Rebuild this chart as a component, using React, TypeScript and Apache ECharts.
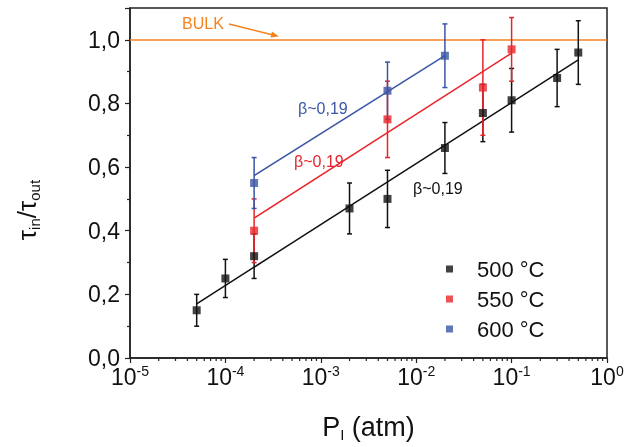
import React, { useEffect, useRef } from 'react';
import * as echarts from 'echarts';

// ---- data ----
const pressure500 = [5e-5, 1e-4, 2e-4, 2e-3, 5e-3, 2e-2, 5e-2, 1e-1, 3e-1, 5e-1];
const ratio500 = [0.15, 0.25, 0.32, 0.47, 0.50, 0.66, 0.77, 0.81, 0.88, 0.96];
const error500 = [0.05, 0.06, 0.07, 0.08, 0.09, 0.08, 0.09, 0.10, 0.09, 0.10];

const pressure550 = [2e-4, 5e-3, 5e-2, 1e-1];
const ratio550 = [0.40, 0.75, 0.85, 0.97];
const error550 = [0.10, 0.12, 0.15, 0.10];

const pressure600 = [2e-4, 5e-3, 2e-2];
const ratio600 = [0.55, 0.84, 0.95];
const error600 = [0.08, 0.09, 0.10];

const fit500X = [5e-5, 0.5];
const fit500Y = [0.17, 0.937];
const fit550X = [2e-4, 0.1];
const fit550Y = [0.44, 0.958];
const fit600X = [2e-4, 2e-2];
const fit600Y = [0.573, 0.95];

const bulkLevel = 1.0;
const seriesNames = ['500 °C', '550 °C', '600 °C'];
const betaLabel = 'β~0,19';
const decades = [-5, -4, -3, -2, -1];
const minorMultipliers = [2, 3, 4, 5, 6, 7, 8, 9];

const COLORS = ['#111111', '#e8242b', '#3a55a5'];
const ORANGE = '#f5821f';
const AXIS = '#222222';
const FONT = '"Liberation Sans", Arial, Helvetica, sans-serif';

const zip = (xs: number[], ys: number[]) => xs.map((x, i) => [x, ys[i]]);
const errData = (xs: number[], ys: number[], es: number[]) =>
  xs.map((x, i) => [x, ys[i] - es[i], ys[i] + es[i]]);

const errorBarRender = (color: string) => (params: any, api: any) => {
  const x = api.value(0);
  const lo = api.value(1);
  const hi = api.value(2);
  const pTop = api.coord([x, hi]);
  const pBot = api.coord([x, lo]);
  const w = 2.5;
  const style = { stroke: color, lineWidth: 1.5 };
  return {
    type: 'group',
    children: [
      { type: 'line', shape: { x1: pTop[0], y1: pTop[1], x2: pBot[0], y2: pBot[1] }, style },
      { type: 'line', shape: { x1: pTop[0] - w, y1: pTop[1], x2: pTop[0] + w, y2: pTop[1] }, style },
      { type: 'line', shape: { x1: pBot[0] - w, y1: pBot[1], x2: pBot[0] + w, y2: pBot[1] }, style },
    ],
  };
};

export default function App() {
  const ref = useRef<HTMLDivElement>(null);
  useEffect(() => {
    const chart = echarts.init(ref.current!, null, { renderer: 'svg' });

    const minorTicks: number[][] = [];
    decades.forEach((d) => minorMultipliers.forEach((m) => minorTicks.push([m * Math.pow(10, d), 0])));

    const pressures = [pressure500, pressure550, pressure600];
    const ratios = [ratio500, ratio550, ratio600];
    const errors = [error500, error550, error600];
    const fits = [
      [fit500X, fit500Y],
      [fit550X, fit550Y],
      [fit600X, fit600Y],
    ];

    const series: any[] = [];
    seriesNames.forEach((name, i) => {
      series.push({
        type: 'line',
        name: 'fit ' + name,
        data: zip(fits[i][0], fits[i][1]),
        showSymbol: false,
        symbol: 'none',
        lineStyle: { color: COLORS[i], width: 1.5 },
        z: 2 + i,
        silent: true,
        ...(i === 0
          ? {
              markLine: {
                silent: true,
                symbol: 'none',
                label: { show: false },
                lineStyle: { color: ORANGE, width: 1.5, type: 'solid' },
                data: [{ yAxis: bulkLevel }],
              },
            }
          : {}),
      });
    });
    seriesNames.forEach((name, i) => {
      series.push({
        type: 'custom',
        name: 'err ' + name,
        data: errData(pressures[i], ratios[i], errors[i]),
        encode: { x: 0, y: [1, 2] },
        renderItem: errorBarRender(COLORS[i]),
        z: 5 + i,
        silent: true,
      });
    });
    seriesNames.forEach((name, i) => {
      series.push({
        type: 'scatter',
        name,
        data: zip(pressures[i], ratios[i]),
        symbol: 'rect',
        symbolSize: 8,
        itemStyle: { color: COLORS[i] },
        z: 10 + i,
      });
    });
    series.push({
      type: 'custom',
      name: 'minor ticks',
      data: minorTicks,
      encode: { x: 0, y: 1 },
      silent: true,
      clip: false,
      renderItem: (params: any, api: any) => {
        const p = api.coord([api.value(0), api.value(1)]);
        return {
          type: 'line',
          shape: { x1: p[0], y1: p[1], x2: p[0], y2: p[1] + 3 },
          style: { stroke: AXIS, lineWidth: 1.2 },
        };
      },
      z: 1,
    });

    const option: any = {
      animation: false,
      textStyle: { fontFamily: FONT },
      grid: {
        left: 130,
        right: 22,
        top: 8,
        bottom: 84,
        show: true,
        borderColor: AXIS,
        borderWidth: 1.5,
        backgroundColor: 'transparent',
      },
      legend: {
        data: seriesNames,
        orient: 'vertical',
        left: 441,
        top: 253,
        itemWidth: 7,
        itemHeight: 7,
        itemGap: 8,
        icon: 'rect',
        textStyle: { fontSize: 22, color: '#111', fontFamily: FONT, padding: [0, 0, 0, 19] },
      },
      xAxis: {
        type: 'log',
        logBase: 10,
        min: 1e-5,
        max: 1,
        axisLine: { lineStyle: { color: AXIS, width: 1.5 } },
        axisTick: { show: true, length: 5, lineStyle: { color: AXIS, width: 1.2 } },
        splitLine: { show: false },
        axisLabel: {
          margin: 6,
          color: '#111',
          formatter: (v: number) => `{b|10}{s|${Math.round(Math.log10(v))}}`,
          rich: {
            b: { fontSize: 23, lineHeight: 26, color: '#111', fontFamily: FONT },
            s: { fontSize: 14, lineHeight: 14, verticalAlign: 'top', color: '#111', fontFamily: FONT },
          },
        },
        name: '{t|P}{s|I}{t| (atm)}',
        nameLocation: 'middle',
        nameGap: 54,
        nameTextStyle: {
          rich: {
            t: { fontSize: 27, lineHeight: 30, color: '#111', fontFamily: FONT },
            s: { fontSize: 15, lineHeight: 15, verticalAlign: 'bottom', color: '#111', fontFamily: FONT },
          },
        },
      },
      yAxis: {
        type: 'value',
        min: 0,
        max: 1.1,
        interval: 0.2,
        axisLine: { show: true, lineStyle: { color: AXIS, width: 1.5 } },
        axisTick: { show: true, length: 5, lineStyle: { color: AXIS, width: 1.2 } },
        minorTick: { show: true, splitNumber: 2, length: 3, lineStyle: { color: AXIS, width: 1.2 } },
        splitLine: { show: false },
        axisLabel: {
          margin: 10,
          fontSize: 23,
          color: '#111',
          showMaxLabel: false,
          formatter: (v: number) => (Math.abs(v - 1.1) < 1e-6 ? '' : v.toFixed(1).replace('.', ',')),
        },
      },
      graphic: [
        {
          type: 'text',
          x: 27,
          y: 210,
          rotation: Math.PI / 2,
          style: {
            text: '{t|τ}{s|in}{t|/τ}{s|out}',
            align: 'center',
            verticalAlign: 'middle',
            rich: {
              t: { fontSize: 26, lineHeight: 30, fill: '#111', fontFamily: FONT },
              s: { fontSize: 15, lineHeight: 15, verticalAlign: 'bottom', fill: '#111', fontFamily: FONT },
            },
          },
        },
        {
          type: 'text',
          x: 182,
          y: 23.5,
          style: { text: 'BULK', fontSize: 16, fill: ORANGE, fontFamily: FONT, verticalAlign: 'middle' },
        },
        {
          type: 'line',
          shape: { x1: 229, y1: 24, x2: 273, y2: 35 },
          style: { stroke: ORANGE, lineWidth: 1.5 },
        },
        {
          type: 'polygon',
          shape: { points: [[279, 36.4], [270.5, 37.4], [272.0, 31.4]] },
          style: { fill: ORANGE },
        },
        {
          type: 'text',
          x: 298,
          y: 108.5,
          style: { text: betaLabel, fontSize: 16, fill: COLORS[2], fontFamily: FONT, verticalAlign: 'middle' },
        },
        {
          type: 'text',
          x: 294,
          y: 161,
          style: { text: betaLabel, fontSize: 16, fill: COLORS[1], fontFamily: FONT, verticalAlign: 'middle' },
        },
        {
          type: 'text',
          x: 413,
          y: 188.5,
          style: { text: betaLabel, fontSize: 16, fill: COLORS[0], fontFamily: FONT, verticalAlign: 'middle' },
        },
      ],
      series,
    };

    chart.setOption(option);
    return () => chart.dispose();
  }, []);
  return <div ref={ref} style={{ position: 'fixed', left: 0, top: 0, width: 629, height: 447 }} />;
}
